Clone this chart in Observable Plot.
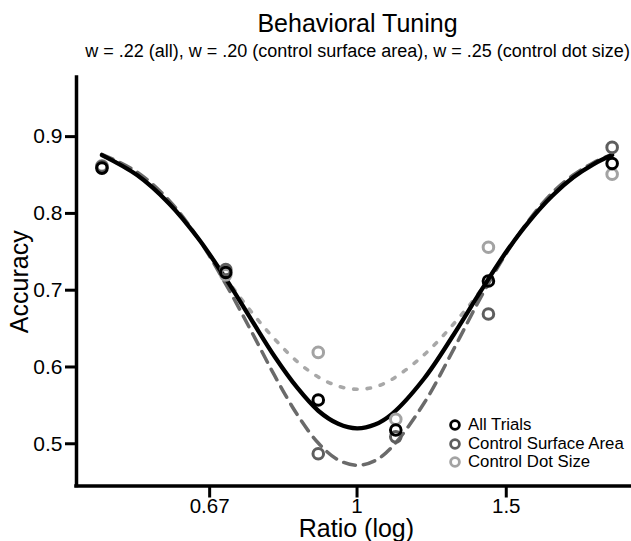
<!DOCTYPE html>
<html><head><meta charset="utf-8">
<script src="https://cdn.jsdelivr.net/npm/d3@7"></script>
<script src="https://cdn.jsdelivr.net/npm/@observablehq/plot@0.6"></script>
<style>
body{margin:0;background:#fff;font-family:"Liberation Sans",Arial,sans-serif}
#wrap{position:relative;width:631px;height:541px}
#legend{position:absolute;left:448px;top:416px;font-size:16.8px;line-height:18.5px;color:#000}
#legend .row{display:flex;align-items:center;height:18.5px}
#legend span{margin-left:6px}
</style></head><body><div id="wrap"></div>
<script>
// observed points
const ratios = [0.5, 0.7, 0.9, 1.111, 1.429, 2.0];
const allTrials = [0.859, 0.723, 0.557, 0.518, 0.712, 0.865];
const surfaceArea = [0.861, 0.727, 0.487, 0.509, 0.669, 0.886];
const dotSize = [0.862, 0.720, 0.619, 0.532, 0.756, 0.851];

// fitted tuning curves
const curveRatios = [0.5,0.55,0.6,0.65,0.7,0.75,0.8,0.85,0.9,0.95,1.0,1.05,1.1,1.2,1.3,1.4,1.5,1.6,1.7,1.8,1.9,2.0];
const fitAll = [0.876,0.850,0.813,0.767,0.715,0.662,0.613,0.573,0.543,0.526,0.520,0.525,0.539,0.585,0.642,0.699,0.750,0.791,0.823,0.847,0.864,0.876];
const fitSurface = [0.877,0.854,0.817,0.767,0.708,0.647,0.588,0.538,0.501,0.479,0.472,0.478,0.496,0.553,0.623,0.691,0.748,0.793,0.827,0.850,0.866,0.877];
const fitDotSize = [0.876,0.850,0.813,0.767,0.716,0.672,0.636,0.607,0.587,0.575,0.571,0.574,0.584,0.616,0.656,0.700,0.750,0.791,0.823,0.847,0.864,0.876];

const xTicks = [0.67, 1, 1.5];
const yTicks = [0.5, 0.6, 0.7, 0.8, 0.9];
const xDomain = [0.4666, 2.108];
const yDomain = [0.445, 0.977];

const seriesNames = ["All Trials", "Control Surface Area", "Control Dot Size"];
const seriesColors = ["#000000", "#5e5e5e", "#a3a3a3"];

const title = "Behavioral Tuning";
const subtitle = "w = .22 (all), w = .20 (control surface area), w = .25 (control dot size)";

const mkCurve = (vals) => curveRatios.map((r, i) => ({r, v: vals[i]}));
const mkPts = (vals) => ratios.map((r, i) => ({r, v: vals[i]}));

const chart = Plot.plot({
  width: 631, height: 541,
  marginLeft: 76, marginRight: 0, marginTop: 77, marginBottom: 55.5,
  style: {fontFamily: "Liberation Sans, Arial, sans-serif", color: "#000", background: "#fff"},
  x: {type: "log", domain: xDomain},
  y: {domain: yDomain},
  marks: [
    Plot.text([title], {frameAnchor: "top", text: d => d, dy: -54, dx: 3.5, fontSize: 25, lineAnchor: "middle", textAnchor: "middle"}),
    Plot.text([subtitle], {frameAnchor: "top", text: d => d, dy: -26, dx: 3.5, fontSize: 18, lineAnchor: "middle", textAnchor: "middle"}),
    Plot.text(["Accuracy"], {frameAnchor: "left", text: d => d, rotate: -90, dx: -57, fontSize: 25, lineAnchor: "middle", textAnchor: "middle"}),
    Plot.text(["Ratio (log)"], {frameAnchor: "bottom", text: d => d, dy: 43, dx: 2.4, fontSize: 25, lineAnchor: "middle", textAnchor: "middle"}),
    Plot.axisY({ticks: yTicks, tickFormat: d => d.toFixed(1), tickSize: 11, tickPadding: 3, strokeWidth: 3, fontSize: 21, label: null}),
    Plot.axisX({ticks: xTicks, tickFormat: d => String(d), tickSize: 12, tickPadding: 0, strokeWidth: 3, fontSize: 20.5, label: null}),
    Plot.ruleX([xDomain[0]], {strokeWidth: 3.5, strokeLinecap: "square"}),
    Plot.ruleY([yDomain[0]], {strokeWidth: 3.5, strokeLinecap: "square"}),
    Plot.line(mkCurve(fitDotSize), {x: "r", y: "v", stroke: "#a8a8a8", strokeWidth: 3.6, strokeDasharray: "3.5 10", curve: "catmull-rom"}),
    Plot.line(mkCurve(fitSurface), {x: "r", y: "v", stroke: "#6a6a6a", strokeWidth: 3.5, strokeDasharray: "12 8", curve: "catmull-rom"}),
    Plot.line(mkCurve(fitAll), {x: "r", y: "v", stroke: "#000", strokeWidth: 4.3, curve: "catmull-rom"}),
    Plot.dot(mkPts(dotSize), {x: "r", y: "v", r: 5.3, stroke: seriesColors[2], strokeWidth: 3, fill: "none"}),
    Plot.dot(mkPts(surfaceArea), {x: "r", y: "v", r: 5.3, stroke: seriesColors[1], strokeWidth: 3, fill: "none"}),
    Plot.dot(mkPts(allTrials), {x: "r", y: "v", r: 5.3, stroke: seriesColors[0], strokeWidth: 3, fill: "none"})
  ]
});

const wrap = document.getElementById("wrap");
wrap.appendChild(chart);

const legend = document.createElement("div");
legend.id = "legend";
seriesNames.forEach((name, i) => {
  const row = document.createElement("div");
  row.className = "row";
  row.innerHTML = `<svg width="14" height="18"><circle cx="7" cy="9" r="4.4" fill="none" stroke="${seriesColors[i]}" stroke-width="2.8"/></svg><span>${name}</span>`;
  legend.appendChild(row);
});
wrap.appendChild(legend);
</script>
</body></html>
